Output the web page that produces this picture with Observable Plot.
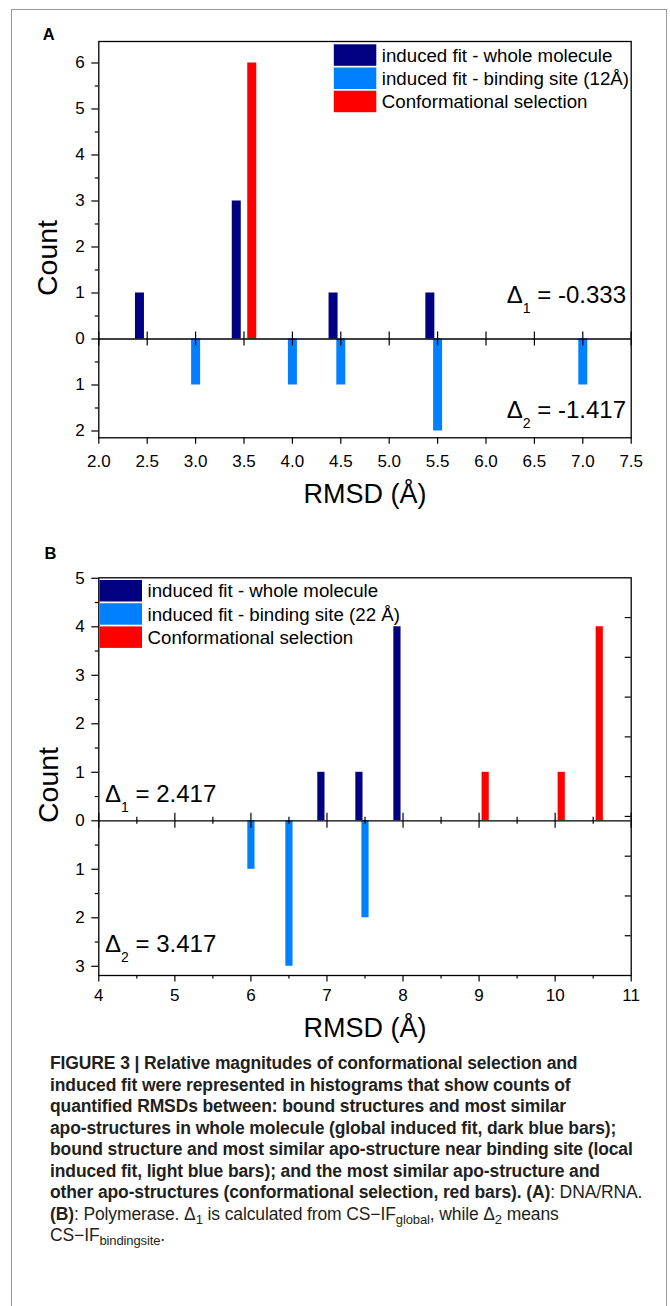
<!DOCTYPE html>
<html><head><meta charset="utf-8">
<script src="https://cdn.jsdelivr.net/npm/d3@7"></script>
<script src="https://cdn.jsdelivr.net/npm/@observablehq/plot@0.6"></script>
<style>
body{margin:0;background:#fff;}
#root{position:relative;width:670px;height:1306px;font-family:"Liberation Sans",Arial,sans-serif;overflow:hidden;}
#border{position:absolute;left:11px;top:9px;width:654px;height:1320px;border:1px solid #9a9a9a;border-bottom:none;}
.panel{position:absolute;left:0;}
#caption{position:absolute;left:50px;top:1053px;font-size:17.5px;letter-spacing:-0.12px;line-height:21.5px;color:#231f20;white-space:nowrap;}
#caption sub{font-size:13px;vertical-align:-4px;line-height:0;}
</style></head><body>
<div id="root">
<div id="border"></div>
<div id="pa" class="panel" style="top:0px"></div>
<div id="pb" class="panel" style="top:520px"></div>
<div id="caption"><b>FIGURE 3 | Relative magnitudes of conformational selection and</b><br><b>induced fit were represented in histograms that show counts of</b><br><b>quantified RMSDs between: bound structures and most similar</b><br><b>apo-structures in whole molecule (global induced fit, dark blue bars);</b><br><b>bound structure and most similar apo-structure near binding site (local</b><br><b>induced fit, light blue bars); and the most similar apo-structure and</b><br><b>other apo-structures (conformational selection, red bars). (A)</b>: DNA/RNA.<br><b>(B)</b>: Polymerase. Δ<sub>1</sub> is calculated from CS−IF<sub>global</sub>, while Δ<sub>2</sub> means<br>CS−IF<sub>bindingsite</sub>.</div>
</div>
<script>
// ---------- data ----------
const seriesColors = ["#000080", "#0080ff", "#ff0000"];
const legendLabelsA = ["induced fit - whole molecule", "induced fit - binding site (12Å)", "Conformational selection"];
const legendLabelsB = ["induced fit - whole molecule", "induced fit - binding site (22 Å)", "Conformational selection"];

// Panel A (DNA/RNA)
const aWholeRmsd = [2.42, 3.42, 4.42, 5.42];
const aWholeCount = [1, 3, 1, 1];
const aSiteRmsd = [3.0, 4.0, 4.5, 5.5, 7.0];
const aSiteCount = [1, 1, 1, 2, 1];
const aCsRmsd = [3.58];
const aCsCount = [6];
const aDeltas = [["1", "-0.333"], ["2", "-1.417"]];
const aXTicks = [2.0, 2.5, 3.0, 3.5, 4.0, 4.5, 5.0, 5.5, 6.0, 6.5, 7.0, 7.5];
const aYTicks = [-2, -1, 0, 1, 2, 3, 4, 5, 6];
const aYMinor = [-1.5, -0.5, 0.5, 1.5, 2.5, 3.5, 4.5, 5.5];

// Panel B (Polymerase)
const bWholeRmsd = [6.92, 7.42, 7.92];
const bWholeCount = [1, 1, 4];
const bSiteRmsd = [6.0, 6.5, 7.5];
const bSiteCount = [1, 3, 2];
const bCsRmsd = [9.08, 10.08, 10.58];
const bCsCount = [1, 1, 4];
const bDeltas = [["1", "2.417"], ["2", "3.417"]];
const bXTicks = [4, 5, 6, 7, 8, 9, 10, 11];
const bXMinor = [4.5, 5.5, 6.5, 7.5, 8.5, 9.5, 10.5];
const bYTicks = [-3, -2, -1, 0, 1, 2, 3, 4, 5];
const bYMinor = [-2.5, -1.5, -0.5, 0.5, 1.5, 2.5, 3.5, 4.5];

const FONT = "Liberation Sans, Arial, sans-serif";
const W = 670, ML = 98.3, MR = 39.3;

function makePanel(c) {
  const innerH = c.height - c.mt - c.mb;
  const ppu = innerH / (c.yDomain[1] - c.yDomain[0]);
  const ppx = (W - ML - MR) / (c.xDomain[1] - c.xDomain[0]);
  const series = [
    {x: c.whole[0], n: c.whole[1], sign: 1, color: seriesColors[0]},
    {x: c.site[0], n: c.site[1], sign: -1, color: seriesColors[1]},
    {x: c.cs[0], n: c.cs[1], sign: 1, color: seriesColors[2]}
  ];
  const marks = series.map(s => Plot.ruleX(s.x.map((x, i) => ({x, y: s.sign * s.n[i]})),
    {x: "x", y1: 0, y2: "y", stroke: s.color, strokeWidth: c.barW}));
  marks.push(Plot.ruleY([0], {stroke: "black", strokeWidth: 1.3}));
  marks.push(Plot.ruleX(c.zeroMajor, {x: d => d, y1: -c.zMajor / ppu, y2: c.zMajor / ppu, stroke: "black", strokeWidth: 1.2}));
  if (c.zeroMinor) marks.push(Plot.ruleX(c.zeroMinor, {x: d => d, y1: -c.zMinor / ppu, y2: c.zMinor / ppu, stroke: "black", strokeWidth: 1.2}));
  if (c.rightTicks) {
    const rt = d3.range(1, c.rightTicks).map(i => c.yDomain[0] + i * (c.yDomain[1] - c.yDomain[0]) / c.rightTicks);
    marks.push(Plot.ruleY(rt, {y: d => d, x1: c.xDomain[1] - 6 / ppx, x2: c.xDomain[1], stroke: "black", strokeWidth: 1.2}));
  }
  marks.push(Plot.axisY({ticks: c.yTicks, tickFormat: d => Math.abs(d), tickSize: 7, tickPadding: 7, fontSize: 17, label: null, stroke: "black", strokeWidth: 1.2}));
  marks.push(Plot.axisY({ticks: c.yMinor, tickFormat: () => "", tickSize: 3.5, label: null, stroke: "black", strokeWidth: 1.2}));
  marks.push(Plot.axisX({ticks: c.xTicks, tickFormat: c.xFmt, tickSize: 6.5, tickPadding: c.xPad, fontSize: 17, label: null, stroke: "black", strokeWidth: 1.2}));
  if (c.xMinor) marks.push(Plot.axisX({ticks: c.xMinor, tickFormat: () => "", tickSize: 3.5, label: null, stroke: "black", strokeWidth: 1.2}));
  marks.push(Plot.frame({stroke: "black", strokeWidth: 1.3}));

  const svgEl = Plot.plot({
    width: W, height: c.height,
    marginLeft: ML, marginRight: MR, marginTop: c.mt, marginBottom: c.mb,
    x: {domain: c.xDomain},
    y: {domain: c.yDomain},
    style: {fontFamily: FONT, color: "black", background: "transparent", overflow: "visible"},
    marks
  });
  const svg = d3.select(svgEl);
  const txt = (x, y, s, size, opts = {}) => {
    const t = svg.append("text").attr("x", x).attr("y", y).attr("font-size", size)
      .attr("font-family", FONT).attr("fill", "black")
      .attr("text-anchor", opts.anchor || "start").text(s);
    if (opts.bold) t.attr("font-weight", "bold");
    if (opts.rotate) t.attr("transform", `rotate(-90 ${x} ${y})`);
    return t;
  };
  // panel letter
  txt(c.letter[1], c.letter[2], c.letter[0], 16.5, {bold: true});
  // axis labels
  txt(c.countPos[0], c.countPos[1], "Count", 28.5, {anchor: "middle", rotate: true});
  txt(c.rmsdPos[0], c.rmsdPos[1], "RMSD (Å)", 27, {anchor: "middle"});
  // legend
  c.legend.forEach((lab, i) => {
    const top = c.legPos[1] + i * 23.2;
    svg.append("rect").attr("x", c.legPos[0]).attr("y", top).attr("width", 42.5).attr("height", 21.5).attr("fill", seriesColors[i]);
    txt(c.legPos[0] + 48, top + 10.75 + 6.6, lab, 18.7);
  });
  // delta annotations
  c.deltas.forEach((d, i) => {
    const p = c.deltaPos[i];
    const t = svg.append("text").attr("x", p[0]).attr("y", p[1]).attr("font-size", 24)
      .attr("font-family", FONT).attr("fill", "black")
      .attr("text-anchor", c.deltaAnchor);
    t.append("tspan").text("Δ");
    t.append("tspan").attr("font-size", 14).attr("dy", 10).text(d[0]);
    t.append("tspan").attr("dy", -10).text(" = " + d[1]);
  });
  return svgEl;
}

document.getElementById("pa").appendChild(makePanel({
  height: 520, mt: 41, mb: 82.7,
  xDomain: [2, 7.5], yDomain: [-2.148, 6.467],
  whole: [aWholeRmsd, aWholeCount], site: [aSiteRmsd, aSiteCount], cs: [aCsRmsd, aCsCount],
  barW: 9,
  zeroMajor: aXTicks, zMajor: 7,
  xTicks: aXTicks, xFmt: d => d.toFixed(1), xPad: 10.5,
  yTicks: aYTicks, yMinor: aYMinor,
  letter: ["A", 42.7, 40],
  countPos: [57.3, 258], rmsdPos: [365, 503],
  legend: legendLabelsA, legPos: [333.8, 44.3],
  deltas: aDeltas, deltaPos: [[626, 302.7], [626, 418.3]], deltaAnchor: "end"
}));

document.getElementById("pb").appendChild(makePanel({
  height: 530, mt: 57.3, mb: 75,
  xDomain: [4, 11], yDomain: [-3.19, 5.01],
  whole: [bWholeRmsd, bWholeCount], site: [bSiteRmsd, bSiteCount], cs: [bCsRmsd, bCsCount],
  barW: 7.2,
  zeroMajor: bXTicks, zMajor: 7.5, zeroMinor: bXMinor, zMinor: 3.5,
  rightTicks: 10,
  xTicks: bXTicks, xMinor: bXMinor, xFmt: d => String(d), xPad: 6.5,
  yTicks: bYTicks, yMinor: bYMinor,
  letter: ["B", 44.5, 39.3],
  countPos: [57.8, 265], rmsdPos: [365, 517],
  legend: legendLabelsB, legPos: [99.5, 60],
  deltas: bDeltas, deltaPos: [[105, 281.7], [105, 431.7]], deltaAnchor: "start"
}));
</script>
</body></html>
